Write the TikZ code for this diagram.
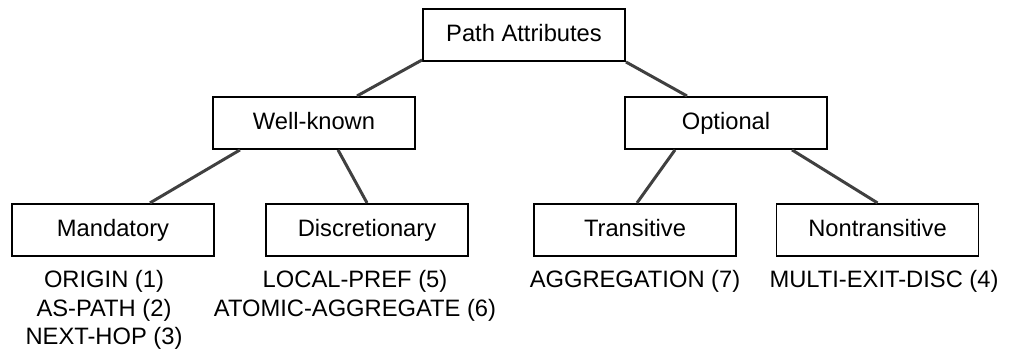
\documentclass[tikz,border=0pt]{standalone}
\usepackage{fontspec}
\setmainfont{Liberation Sans}
\usepackage{tikz}
\usepackage{xcolor}
\usetikzlibrary{positioning}

\definecolor{linkgray}{HTML}{404040}

\begin{document}
\begin{tikzpicture}[
    node distance=0.68cm,
    every node/.style={font=\fontsize{13.5}{16.1}\selectfont},
    attr/.style={rectangle, draw, line width=1.1pt, minimum width=4.04cm, minimum height=1.04cm, inner sep=0pt, text height=9.7pt, text depth=2.6pt},
    codes/.style={align=center, inner sep=0pt},
    link/.style={draw, line width=1.7pt, color=linkgray}
]
\useasboundingbox (0,0) rectangle (20.26,-7);

\node [attr] (path) at (10.48,-0.7) {Path Attributes};
\node [attr, below=of path, xshift=-4.2cm] (wellknown) {Well-known};
\node [attr, below=of path, xshift=4.04cm] (optional) {Optional};
\node [attr, below=1.06cm of wellknown, xshift=-4.02cm] (mandatory) {Mandatory};
\node [attr, below=1.06cm of wellknown, xshift=1.06cm] (discret) {Discretionary};
\node [attr, below=1.06cm of optional, xshift=-1.82cm] (transitive) {Transitive};
\node [attr, below=1.06cm of optional, xshift=3.03cm] (nontrans) {Nontransitive};

% attribute type codes under each category
\node [codes, below=0.27cm of mandatory, xshift=-0.18cm] (mandcodes) {ORIGIN (1)\\AS-PATH (2)\\NEXT-HOP (3)};
\node [codes, below=0.27cm of discret, xshift=-0.24cm] (discodes) {LOCAL-PREF (5)\\ATOMIC-AGGREGATE (6)};
\node [codes, below=0.27cm of transitive] (transcodes) {AGGREGATION (7)};
\node [codes, below=0.27cm of nontrans, xshift=0.13cm] (ntcodes) {MULTI-EXIT-DISC (4)};

\path [link] ([yshift=0.04cm]path.south west) -- ([xshift=0.86cm]wellknown.north);
\path [link] (path.south east) -- ([xshift=-0.78cm]optional.north);
\path [link] ([xshift=-1.48cm]wellknown.south) -- ([xshift=0.74cm]mandatory.north);
\path [link] ([xshift=0.48cm]wellknown.south) -- (discret.north);
\path [link] ([xshift=-1.02cm]optional.south) -- ([xshift=0.04cm]transitive.north);
\path [link] ([xshift=1.32cm]optional.south) -- (nontrans.north);

\end{tikzpicture}
\end{document}
